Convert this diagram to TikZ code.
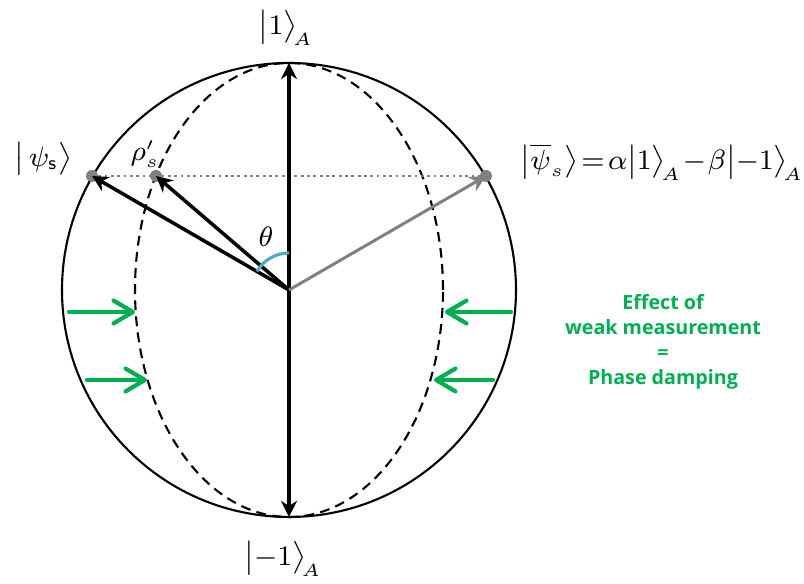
\documentclass[tikz,border=0pt]{standalone}
\usepackage{amsmath, amssymb}
\usepackage{fontspec}
\usepackage{tikz}
\newfontfamily\notefont{Open Sans}[BoldFont={Open Sans Bold}]
\usetikzlibrary{arrows.meta, positioning, calc}
\definecolor{effgreen}{HTML}{00B050}
\definecolor{arcblue}{HTML}{4BACC6}
\definecolor{vecgray}{HTML}{808080}

\begin{document}
\begin{tikzpicture}[
    vec/.style={line width=1pt, -{Stealth[length=4.6pt, width=4.6pt]}},
    push/.style={effgreen, line width=1.2pt, line cap=round,
        -{Straight Barb[length=5.5pt, width=6.5pt, line width=1.2pt, round]}},
    ket/.style={inner sep=0pt, font=\fontsize{7.8}{9}\selectfont},
    pt/.style={vecgray}
]
    \useasboundingbox (-2.89, -2.94) rectangle (5.15, 2.90);

    % Kugel und gedaempfte Ellipse
    \coordinate (O) at (0, 0);
    \draw[line width=0.6pt] (O) circle (2.27);
    \draw[line width=0.6pt, dash pattern=on 2.8pt off 1.8pt] (O) ellipse (1.54 and 2.27);

    % Zustaende
    \coordinate (top) at (0, 2.27);
    \coordinate (bot) at (0, -2.27);
    \coordinate (psi) at (-1.97, 1.14);
    \coordinate (rho) at (-1.33, 1.14);
    \coordinate (psib) at (1.97, 1.14);

    \draw[vecgray, line width=0.7pt, dash pattern=on 0.8pt off 1pt] (psi) -- (psib);
    \fill[pt] (psi) circle (0.06);
    \fill[pt] (rho) circle (0.06);
    \fill[pt] (psib) circle (0.06);

    % Vektoren
    \draw[line width=1pt, {Stealth[length=4.6pt, width=4.6pt]}-{Stealth[length=4.6pt, width=4.6pt]}] (bot) -- (top);
    \draw[vec] (O) -- (psi);
    \draw[vec] (O) -- (rho);
    \draw[vec, vecgray, line width=0.85pt] (O) -- (psib);

    % Winkel
    \draw[arcblue, line width=0.9pt] (O) ++(90:0.37) arc[start angle=90, end angle=150, radius=0.37];
    \node[ket] (theta) at (-0.23, 0.53) {$\theta$};

    % Beschriftungen
    \node[ket] (one) at (-0.03, 2.62) {$\bigl|1\bigr\rangle_{\!A}$};
    \node[ket] (mone) at (-0.06, -2.69) {$\bigl|{-}1\bigr\rangle_{\!A}$};
    \node[ket] (psilab) at (-2.46, 1.31) {$\bigl|\,\psi_{\mathsf{s}}\bigr\rangle$};
    \node[ket] (rholab) at (-1.44, 1.36) {$\rho'_s$};
    \node[ket] (psiblab) at (3.73, 1.28)
        {$\bigl|\overline{\psi}_s\bigr\rangle\!=\!\alpha\bigl|1\bigr\rangle_{\!A}\!-\!\beta\bigl|{-}1\bigr\rangle_{\!A}$};

    % Schwache Messung: Pfeile nach innen
    \coordinate (la1) at (-2.20, -0.22);
    \coordinate (la2) at (-1.54, -0.22);
    \coordinate (lb1) at (-2.02, -0.90);
    \coordinate (lb2) at (-1.42, -0.90);
    \coordinate (ra1) at (2.22, -0.22);
    \coordinate (ra2) at (1.56, -0.22);
    \coordinate (rb1) at (2.04, -0.90);
    \coordinate (rb2) at (1.45, -0.90);
    \draw[push] (la1) -- (la2);
    \draw[push] (lb1) -- (lb2);
    \draw[push] (ra1) -- (ra2);
    \draw[push] (rb1) -- (rb2);

    \node[align=center, text=effgreen, font=\notefont\bfseries\fontsize{5.6}{7.1}\selectfont] (effect) at (3.74, -0.52)
        {Effect of\\weak measurement\\=\\Phase damping};
\end{tikzpicture}
\end{document}
